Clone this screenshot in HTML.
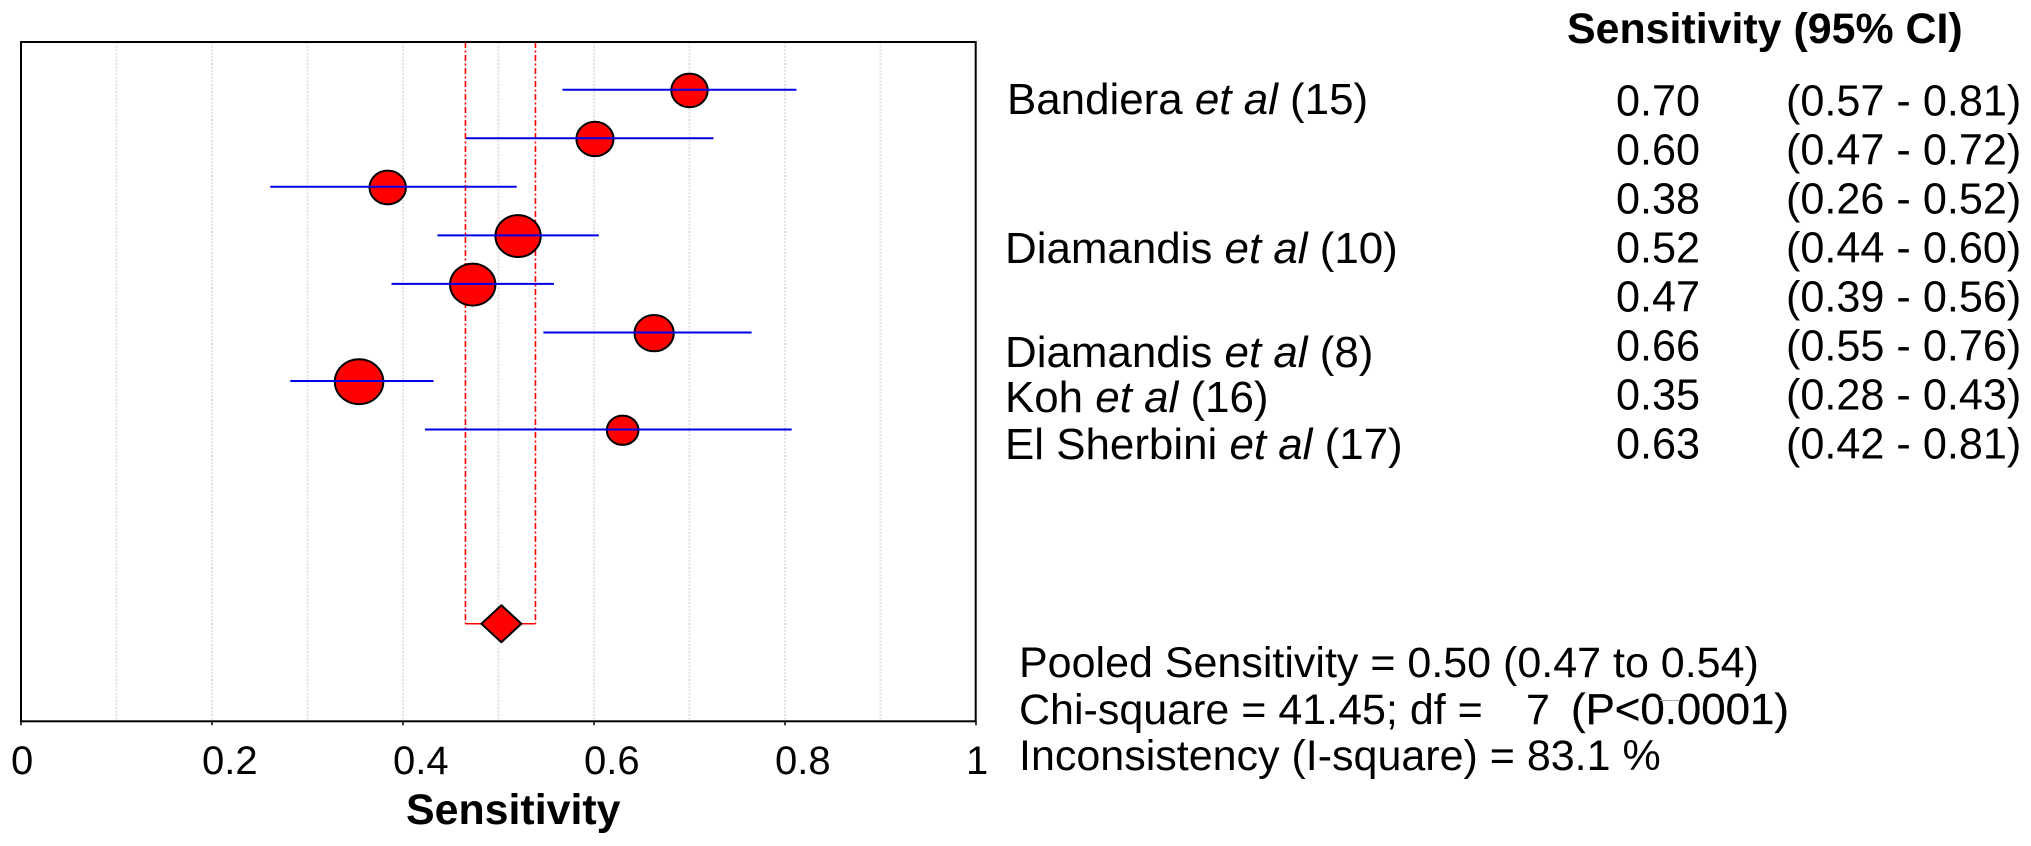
<!DOCTYPE html>
<html lang="en">
<head>
<meta charset="utf-8">
<title>Forest plot of pooled sensitivity</title>
<style>
html,body{margin:0;padding:0;background:#fff;width:2031px;height:846px;overflow:hidden}
svg{display:block}
text{font-family:"Liberation Sans",Arial,sans-serif;fill:#000}
.tick{font-size:40px}
.head{font-size:42.9px;font-weight:bold}
.lab{font-size:43.9px}
.val{font-size:43.2px}
.sum{font-size:43px}
</style>
</head>
<body>
<svg id="chart" width="2031" height="846" viewBox="0 0 2031 846" xmlns="http://www.w3.org/2000/svg">
  <g id="grid"></g>
  <g id="pooled"></g>
  <g id="marks"></g>
  <rect x="21" y="42" width="954.7" height="679.3" fill="none" stroke="#000" stroke-width="2"></rect>
  <g id="ticks"></g>
  <text class="head" x="406" y="824">Sensitivity</text>
  <text class="head" x="1567" y="43">Sensitivity (95% CI)</text>

  <text class="lab" x="1007" y="114">Bandiera <tspan font-style="italic">et al</tspan> (15)</text>
  <text class="lab" x="1005" y="263">Diamandis <tspan font-style="italic">et al</tspan> (10)</text>
  <text class="lab" x="1005" y="367">Diamandis <tspan font-style="italic">et al</tspan> (8)</text>
  <text class="lab" x="1005" y="412">Koh <tspan font-style="italic">et al</tspan> (16)</text>
  <text class="lab" x="1005" y="459">El Sherbini <tspan font-style="italic">et al</tspan> (17)</text>

  <g id="table"></g>

  <text class="sum" x="1019" y="677">Pooled Sensitivity = 0.50 (0.47 to 0.54)</text>
  <text class="sum" x="1019" y="724">Chi-square = 41.45; df =<tspan x="1526">7</tspan><tspan x="1571" font-size="43.8" stroke="#000" stroke-width="0.3">(P&lt;0.0001)</tspan></text>
  <line x1="1660" y1="700.5" x2="1680" y2="700.5" stroke="#aaa" stroke-width="1"></line>
  <text class="sum" x="1019" y="770">Inconsistency (I-square) = 83.1 %</text>
</svg>
<script>
// Plotted values
const sensitivity = [0.700, 0.601, 0.384, 0.5205, 0.473, 0.663, 0.354, 0.630];
const lowerCI = [0.567, 0.466, 0.261, 0.436, 0.388, 0.547, 0.282, 0.423];
const upperCI = [0.812, 0.725, 0.519, 0.605, 0.558, 0.765, 0.432, 0.807];
const studyWeight = [49, 51, 49, 76, 76, 57, 87, 37];
const pooledMean = [0.503];
const pooledLower = [0.4654];
const pooledUpper = [0.5387];
const gridValues = [0.1, 0.2, 0.3, 0.4, 0.5, 0.6, 0.7, 0.8, 0.9];
const tickValues = [0, 0.2, 0.4, 0.6, 0.8, 1];
const tickLabels = ["0", "0.2", "0.4", "0.6", "0.8", "1"];
const printedSensitivity = ["0.70", "0.60", "0.38", "0.52", "0.47", "0.66", "0.35", "0.63"];
const printedCI = ["(0.57 - 0.81)", "(0.47 - 0.72)", "(0.26 - 0.52)", "(0.44 - 0.60)", "(0.39 - 0.56)", "(0.55 - 0.76)", "(0.28 - 0.43)", "(0.42 - 0.81)"];

const NS = "http://www.w3.org/2000/svg";
const plotTop = 42, plotBottom = 721.3;
function xScale(v) { return 21 + 955 * v; }
function yRow(i) { return 89.7 + 48.55 * i; }
function make(parent, tag, attrs) {
  const el = document.createElementNS(NS, tag);
  for (const k in attrs) el.setAttribute(k, attrs[k]);
  parent.appendChild(el);
  return el;
}

const gridG = document.getElementById("grid");
gridValues.forEach(function (v) {
  const g = make(gridG, "line", { x1: xScale(v), x2: xScale(v), y1: plotTop, y2: plotBottom, stroke: "#e2e2e2", "stroke-width": 2, "stroke-dasharray": "2 1.5" });
  
  
});

const pooledG = document.getElementById("pooled");
const pooledY = yRow(11);
[pooledLower[0], pooledUpper[0]].forEach(function (v) {
  const l = make(pooledG, "line", { x1: xScale(v), x2: xScale(v), y1: plotTop, y2: pooledY, stroke: "#f00", "stroke-width": 1.6, "stroke-dasharray": "6 2.5 2 2.5" });
  
  
});
const pooledBar = make(pooledG, "line", { x1: xScale(pooledLower[0]), x2: xScale(pooledUpper[0]), y1: pooledY, y2: pooledY, stroke: "#f00", "stroke-width": 1.6 });


const mx = xScale(pooledMean[0]);
const diamond = make(pooledG, "polygon", { points: (mx - 20) + "," + pooledY + " " + mx + "," + (pooledY - 18.5) + " " + (mx + 20) + "," + pooledY + " " + mx + "," + (pooledY + 18.5), fill: "#f00", stroke: "#000", "stroke-width": 2, "stroke-linejoin": "round" });



const marksG = document.getElementById("marks");
sensitivity.forEach(function (v, i) {
  const rx = 2.6 * Math.sqrt(studyWeight[i]);
  const c = make(marksG, "ellipse", { cx: xScale(v), cy: yRow(i) + 0.7, rx: rx, ry: rx * 0.925, fill: "#f00", stroke: "#000", "stroke-width": 2 });
  
  
  const b = make(marksG, "line", { x1: xScale(lowerCI[i]), x2: xScale(upperCI[i]), y1: yRow(i), y2: yRow(i), stroke: "#0000e6", "stroke-width": 2 });
  
  
});

const ticksG = document.getElementById("ticks");
tickValues.forEach(function (v, i) {
  const t = make(ticksG, "line", { x1: xScale(v), x2: xScale(v), y1: plotBottom, y2: plotBottom + 4, stroke: "#000", "stroke-width": 1.5 });
  
  
  const lab = make(ticksG, "text", { x: xScale(v) - 10, y: 774, "class": "tick" });
  lab.textContent = tickLabels[i];
  
  
});

const tableG = document.getElementById("table");
printedSensitivity.forEach(function (s, i) {
  const base = 115.5 + 49 * i;
  const a = make(tableG, "text", { x: 1616, y: base, "class": "val" });
  a.textContent = s;
  
  
  const b = make(tableG, "text", { x: 1786, y: base, "class": "val" });
  b.textContent = printedCI[i];
  
  
});
</script>
</body>
</html>
